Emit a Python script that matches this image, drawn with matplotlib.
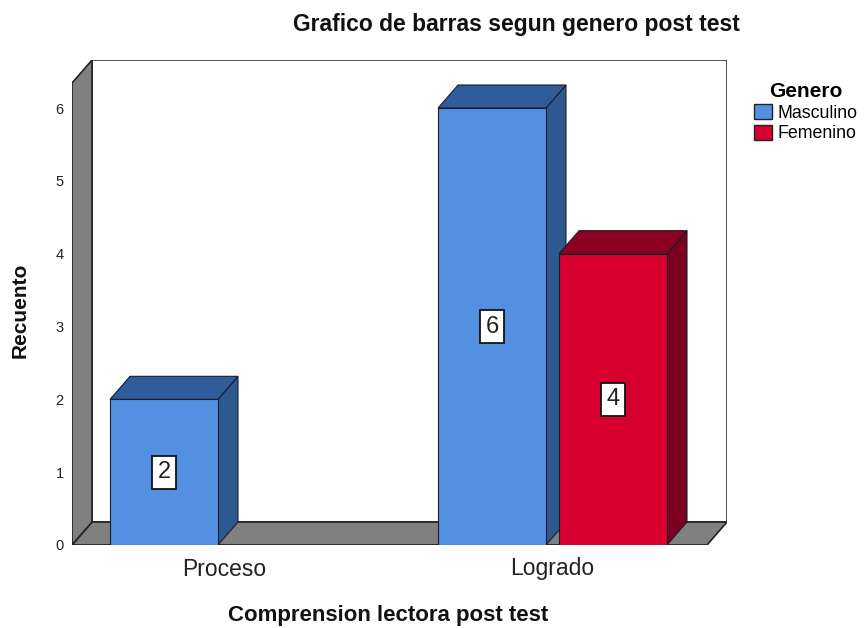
import matplotlib
matplotlib.use('Agg')
import matplotlib.pyplot as plt
from matplotlib.patches import Polygon, Rectangle, Patch

plt.rcParams['font.family'] = ['Liberation Sans', 'DejaVu Sans']

# data
categories = ['Proceso', 'Logrado']
genders = ['Masculino', 'Femenino']
counts = {
    'Masculino': [2, 6],
    'Femenino': [0, 4],
}
y_ticks = [0, 1, 2, 3, 4, 5, 6]

# styles
front_col = {'Masculino': '#5391e0', 'Femenino': '#d7002f'}
top_col = {'Masculino': '#2f5d9b', 'Femenino': '#8d0024'}
side_col = {'Masculino': '#2d5990', 'Femenino': '#7c001f'}
edge = '#1c1c2c'
wall = '#808080'

bar_w = 0.329
offset = 0.1845
dx, dy = 0.061, 0.316          # depth of the 3D box
x_left, x_right = -0.465, 1.471
top = 6.343

fig = plt.figure(figsize=(8.67, 6.28), dpi=100)
ax = fig.add_axes([72 / 867, 83 / 628, 655 / 867, 485 / 628])
ax.set_xlim(x_left, x_left + 655 / 328)
ax.set_ylim(0, 485 / 72.83)

# back wall, floor, left wall
ax.add_patch(Rectangle((x_left + dx, dy), x_right - x_left, top, facecolor='white',
                       edgecolor='#333333', lw=1.2, zorder=1))
ax.add_patch(Polygon([(x_left, 0), (x_right, 0), (x_right + dx, dy), (x_left + dx, dy)],
                     closed=True, facecolor=wall, edgecolor='#222222', lw=1.2, zorder=2))
ax.add_patch(Polygon([(x_left, 0), (x_left + dx, dy), (x_left + dx, top + dy), (x_left, top)],
                     closed=True, facecolor=wall, edgecolor='#222222', lw=1.2, zorder=2))

z = 3
for ci, cat in enumerate(categories):
    for gi, g in enumerate(genders):
        h = counts[g][ci]
        if h == 0:
            continue
        xc = ci + (gi * 2 - 1) * offset
        x0 = xc - bar_w / 2
        x1 = xc + bar_w / 2
        ax.add_patch(Polygon([(x1, 0), (x1 + dx, dy), (x1 + dx, h + dy), (x1, h)],
                             closed=True, facecolor=side_col[g], edgecolor=edge, lw=0.8, zorder=z))
        ax.add_patch(Polygon([(x0, h), (x1, h), (x1 + dx, h + dy), (x0 + dx, h + dy)],
                             closed=True, facecolor=top_col[g], edgecolor=edge, lw=0.8, zorder=z))
        ax.add_patch(Rectangle((x0, 0), bar_w, h, facecolor=front_col[g],
                               edgecolor=edge, lw=0.8, zorder=z + 0.5))
        ax.text(xc, h / 2, str(h), ha='center', va='center', fontsize=17, zorder=z + 1,
                color='#222222',
                bbox=dict(boxstyle='square,pad=0.24', facecolor='white', edgecolor='#111111', lw=1.3))
        z += 1

ax.set_xticks([0, 1])
ax.set_xticklabels(categories, fontsize=16.5, color='#222222')
ax.set_yticks(y_ticks)
ax.set_yticklabels([str(t) for t in y_ticks], fontsize=10.5, color='#222222')
ax.tick_params(axis='both', length=0)
ax.tick_params(axis='y', pad=6)
ax.tick_params(axis='x', pad=9)
for s in ax.spines.values():
    s.set_visible(False)

fig.text(516 / 867, 1 - 24 / 628, 'Grafico de barras segun genero post test',
         ha='center', va='center', fontsize=16.5, fontweight='bold', color='#111111')
fig.text(388 / 867, 1 - 616 / 628, 'Comprension lectora post test',
         ha='center', va='center', fontsize=16, fontweight='bold', color='#111111')
fig.text(20 / 867, 1 - 310 / 628, 'Recuento', rotation=90,
         ha='center', va='center', fontsize=15, fontweight='bold', color='#111111')

handles = [Patch(facecolor=front_col[g], edgecolor='#222222', lw=1.0) for g in genders]
leg = fig.legend(handles, genders, title='Genero', loc='upper left',
                 bbox_to_anchor=(742 / 867, 1 - 70 / 628), frameon=False,
                 fontsize=12.8, title_fontproperties={'weight': 'bold', 'size': 15},
                 handlelength=1.0, handleheight=0.95, handletextpad=0.3,
                 labelspacing=0.15, borderpad=0.2)

fig.savefig('out.png', dpi=100)
